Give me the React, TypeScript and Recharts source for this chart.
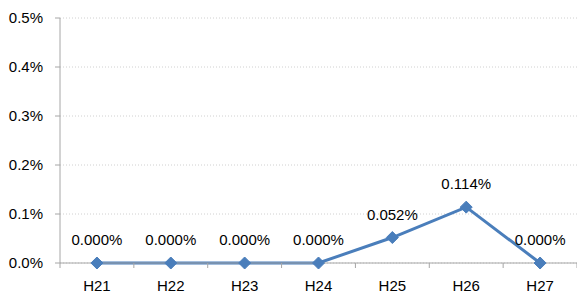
import React from 'react';
import { LineChart, Line, XAxis, YAxis, CartesianGrid, LabelList } from 'recharts';

const years = ['H21', 'H22', 'H23', 'H24', 'H25', 'H26', 'H27'];
const rates = [0, 0, 0, 0, 0.052, 0.114, 0];
const yTicks = [0, 0.1, 0.2, 0.3, 0.4, 0.5];

const data = years.map((name, i) => ({ name, rate: rates[i] }));

const FONT = '"Liberation Sans", Arial, sans-serif';
const BLUE = '#4a7ebb';
const AXIS = '#a6a6a6';
const HALF_BAND = (577 - 60) / 7 / 2;

const Diamond = ({ cx, cy }: any) => {
  if (cx == null || cy == null) return null;
  const r = 6;
  return (
    <polygon
      points={`${cx},${cy - r} ${cx + r},${cy} ${cx},${cy + r} ${cx - r},${cy}`}
      fill={BLUE}
      stroke={BLUE}
    />
  );
};

// ticks sit between the categories, like a spreadsheet chart
const XTick = ({ x, y, payload, index }: any) => (
  <g>
    <line x1={x - HALF_BAND} y1={y - 7} x2={x - HALF_BAND} y2={y - 2} stroke={AXIS} />
    {index === years.length - 1 && (
      <line x1={x + HALF_BAND} y1={y - 7} x2={x + HALF_BAND} y2={y - 2} stroke={AXIS} />
    )}
    <text x={x} y={y + 21} textAnchor="middle" fontSize={15} fontFamily={FONT} fill="#000">
      {payload.value}
    </text>
  </g>
);

export default function App() {
  return (
    <div style={{ position: 'fixed', left: 0, top: 0, width: 577, height: 298, background: '#fff' }}>
      <LineChart
        width={577}
        height={298}
        data={data}
        margin={{ top: 18, right: 0, left: 0, bottom: 0 }}
      >
        <CartesianGrid vertical={false} stroke="#d0d0d0" strokeDasharray="1 2" />
        <XAxis
          dataKey="name"
          height={35}
          stroke={AXIS}
          tickLine={false}
          tickSize={5}
          tick={<XTick />}
          interval={0}
          padding={{ left: HALF_BAND, right: HALF_BAND }}
        />
        <YAxis
          width={60}
          domain={[0, 0.5]}
          ticks={yTicks}
          stroke={AXIS}
          tickSize={5}
          tickMargin={12}
          tickFormatter={(v: number) => `${v.toFixed(1)}%`}
          tick={{ fill: '#000', fontSize: 15, fontFamily: FONT }}
        />
        <Line
          dataKey="rate"
          stroke={BLUE}
          strokeWidth={3}
          dot={<Diamond />}
          activeDot={false}
          isAnimationActive={false}
        >
          <LabelList
            dataKey="rate"
            position="top"
            offset={18}
            formatter={(v: any) => `${Number(v).toFixed(3)}%`}
            style={{ fill: '#000', fontSize: 15, fontFamily: FONT }}
          />
        </Line>
      </LineChart>
    </div>
  );
}
